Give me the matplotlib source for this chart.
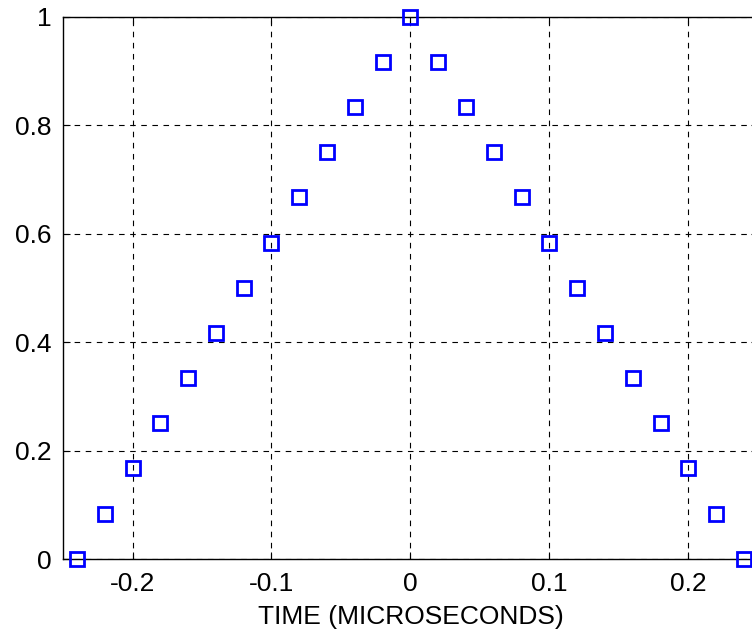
import numpy as np
import matplotlib.pyplot as plt

# tiempo (microsegundos) y amplitud
t = [-0.24, -0.22, -0.20, -0.18, -0.16, -0.14, -0.12, -0.10, -0.08, -0.06,
     -0.04, -0.02, 0.0, 0.02, 0.04, 0.06, 0.08, 0.10, 0.12, 0.14,
     0.16, 0.18, 0.20, 0.22, 0.24]
amp = [0.0, 0.083, 0.167, 0.25, 0.333, 0.417, 0.5, 0.583, 0.667, 0.75,
       0.833, 0.917, 1.0, 0.917, 0.833, 0.75, 0.667, 0.583, 0.5, 0.417,
       0.333, 0.25, 0.167, 0.083, 0.0]

xticks = [-0.2, -0.1, 0, 0.1, 0.2]
xlabels = ['-0.2', '-0.1', '0', '0.1', '0.2']
yticks = [0, 0.2, 0.4, 0.6, 0.8, 1]
ylabels = ['0', '0.2', '0.4', '0.6', '0.8', '1']

plt.rcParams['font.family'] = ['Liberation Sans', 'DejaVu Sans']

fig = plt.figure(figsize=(7.52, 6.36), dpi=100)
ax = fig.add_axes([0.0838, 0.121, 0.924, 0.853])

ax.plot(t, amp, linestyle='none', marker='s', markersize=10,
        markerfacecolor='none', markeredgecolor='blue', markeredgewidth=2,
        clip_on=False, zorder=3)

ax.set_xlim(-0.25, 0.25)
ax.set_ylim(0, 1)
ax.set_xticks(xticks)
ax.set_xticklabels(xlabels)
ax.set_yticks(yticks)
ax.set_yticklabels(ylabels)
ax.tick_params(direction='in', length=5, width=0.8, labelsize=19, pad=8,
               top=True, right=True)
ax.tick_params(axis='x', pad=9.5)
ax.grid(True, color='black', linestyle=(0, (5, 5)), linewidth=0.8)
for s in ax.spines.values():
    s.set_linewidth(1.0)
ax.set_xlabel('TIME (MICROSECONDS)', fontsize=19, labelpad=6)

fig.savefig('out.png', dpi=100)
